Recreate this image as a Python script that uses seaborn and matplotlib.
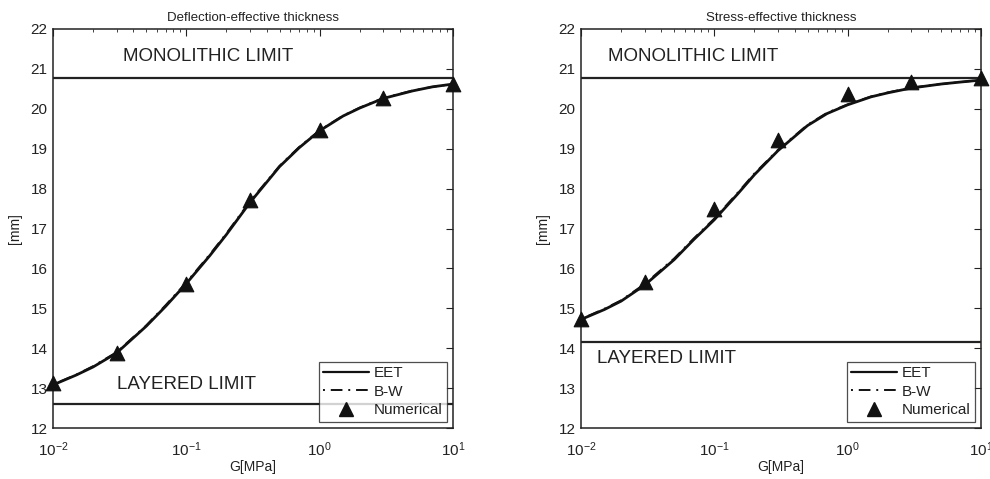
import numpy as np
import pandas as pd
import matplotlib
matplotlib.use("Agg")
import matplotlib.pyplot as plt
from matplotlib.ticker import LogLocator, NullFormatter, FixedLocator
from matplotlib.lines import Line2D
import seaborn as sns

sns.set_theme(style="white")
plt.rcParams["font.family"] = ["Liberation Sans", "DejaVu Sans"]
plt.rcParams["mathtext.fontset"] = "custom"
plt.rcParams["mathtext.rm"] = "Liberation Sans"
plt.rcParams["mathtext.it"] = "Liberation Sans"

# shear modulus of the interlayer [MPa]
g_curve = [0.01, 0.015, 0.02, 0.03, 0.05, 0.07, 0.1, 0.15, 0.2, 0.3,
           0.5, 0.7, 1.0, 1.5, 2.0, 3.0, 5.0, 7.0, 10.0]
g_num = [0.01, 0.03, 0.1, 0.3, 1.0, 3.0, 10.0]

# deflection-effective thickness [mm]
defl_eet = [13.08, 13.33, 13.53, 13.88, 14.55, 15.05, 15.62, 16.32, 16.85, 17.65,
            18.55, 19.02, 19.45, 19.82, 20.02, 20.26, 20.45, 20.55, 20.62]
defl_bw = [13.09, 13.34, 13.55, 13.90, 14.57, 15.08, 15.65, 16.35, 16.88, 17.68,
           18.57, 19.04, 19.46, 19.83, 20.03, 20.27, 20.46, 20.55, 20.62]
defl_num = [13.12, 13.88, 15.62, 17.72, 19.48, 20.28, 20.63]
defl_mono, defl_layer = 20.78, 12.6

# stress-effective thickness [mm]
stress_eet = [14.72, 14.97, 15.18, 15.58, 16.22, 16.72, 17.22, 17.87, 18.35, 18.95,
              19.58, 19.88, 20.10, 20.30, 20.40, 20.52, 20.62, 20.67, 20.72]
stress_bw = [14.73, 14.99, 15.20, 15.61, 16.25, 16.75, 17.25, 17.90, 18.38, 18.97,
             19.60, 19.90, 20.11, 20.31, 20.41, 20.53, 20.62, 20.67, 20.72]
stress_num = [14.72, 15.66, 17.50, 19.22, 20.38, 20.68, 20.78]
stress_mono, stress_layer = 20.78, 14.15

panels = [
    ("Deflection-effective thickness", defl_eet, defl_bw, defl_num, defl_mono, defl_layer,
     (0.0335, 21.3), (0.0302, 13.08)),
    ("Stress-effective thickness", stress_eet, stress_bw, stress_num, stress_mono, stress_layer,
     (0.0159, 21.3), (0.0132, 13.75)),
]

fig = plt.figure(figsize=(9.9, 4.79), dpi=100)
ax_boxes = [[53 / 990, 1 - 428 / 479, 400 / 990, 399 / 479],
            [581 / 990, 1 - 428 / 479, 400 / 990, 399 / 479]]

for k, (title, eet, bw, num, mono, layer, mono_pos, layer_pos) in enumerate(panels):
    ax = fig.add_axes(ax_boxes[k])
    df_eet = pd.DataFrame({"G": g_curve, "t": eet})
    df_bw = pd.DataFrame({"G": g_curve, "t": bw})
    df_num = pd.DataFrame({"G": g_num, "t": num})

    ax.axhline(mono, color="#222222", lw=1.6, zorder=1)
    ax.axhline(layer, color="#222222", lw=1.6, zorder=1)
    sns.lineplot(data=df_eet, x="G", y="t", ax=ax, color="#111111", lw=2.0, zorder=3)
    sns.lineplot(data=df_bw, x="G", y="t", ax=ax, color="#111111", lw=1.4,
                 linestyle=(0, (1, 3, 6, 3)), zorder=4)
    sns.scatterplot(data=df_num, x="G", y="t", ax=ax, marker="^", s=110,
                    color="#111111", edgecolor="#111111", zorder=5, clip_on=False)

    ax.set_xscale("log")
    ax.set_xlim(0.01, 10)
    ax.set_ylim(12, 22)
    ax.yaxis.set_major_locator(FixedLocator(np.arange(12, 23, 1)))
    ax.xaxis.set_major_locator(LogLocator(base=10, numticks=10))
    ax.xaxis.set_minor_locator(LogLocator(base=10, subs=np.arange(2, 10), numticks=20))
    ax.xaxis.set_minor_formatter(NullFormatter())
    ax.tick_params(axis="both", which="both", direction="in", top=True, right=True,
                   colors="#222222", labelcolor="#222222", labelsize=11)
    ax.tick_params(which="major", length=5, width=0.8)
    ax.tick_params(which="minor", length=2.5, width=0.6)
    ax.tick_params(axis="x", which="major", pad=9)
    ax.tick_params(axis="y", which="major", pad=4)
    for sp in ax.spines.values():
        sp.set_color("#222222")
        sp.set_linewidth(1.1)

    ax.set_title(title, fontsize=9.5, color="#222222", pad=6)
    ax.set_xlabel("G[MPa]", fontsize=10, color="#222222", labelpad=1)
    ax.set_ylabel("[mm]", fontsize=10, color="#222222", labelpad=6)

    ax.text(mono_pos[0], mono_pos[1], "MONOLITHIC LIMIT", fontsize=13.5,
            color="#222222", ha="left", va="center")
    ax.text(layer_pos[0], layer_pos[1], "LAYERED LIMIT",
            fontsize=13.5, color="#222222", ha="left", va="center")

    handles = [
        Line2D([], [], color="#111111", lw=1.6),
        Line2D([], [], color="#111111", lw=1.4, linestyle=(0, (1, 3, 6, 3))),
        Line2D([], [], color="#111111", marker="^", ls="none", markersize=10),
    ]
    leg = ax.legend(handles, ["EET", "B-W", "Numerical"], loc="lower right",
                    fontsize=11, frameon=True, fancybox=False, handlelength=3.0,
                    borderpad=0.3, labelspacing=0.3, handletextpad=0.3,
                    borderaxespad=0.4)
    leg.get_frame().set_edgecolor("#222222")
    leg.get_frame().set_linewidth(0.9)
    for t in leg.get_texts():
        t.set_color("#222222")

fig.savefig("out.png", dpi=100)
